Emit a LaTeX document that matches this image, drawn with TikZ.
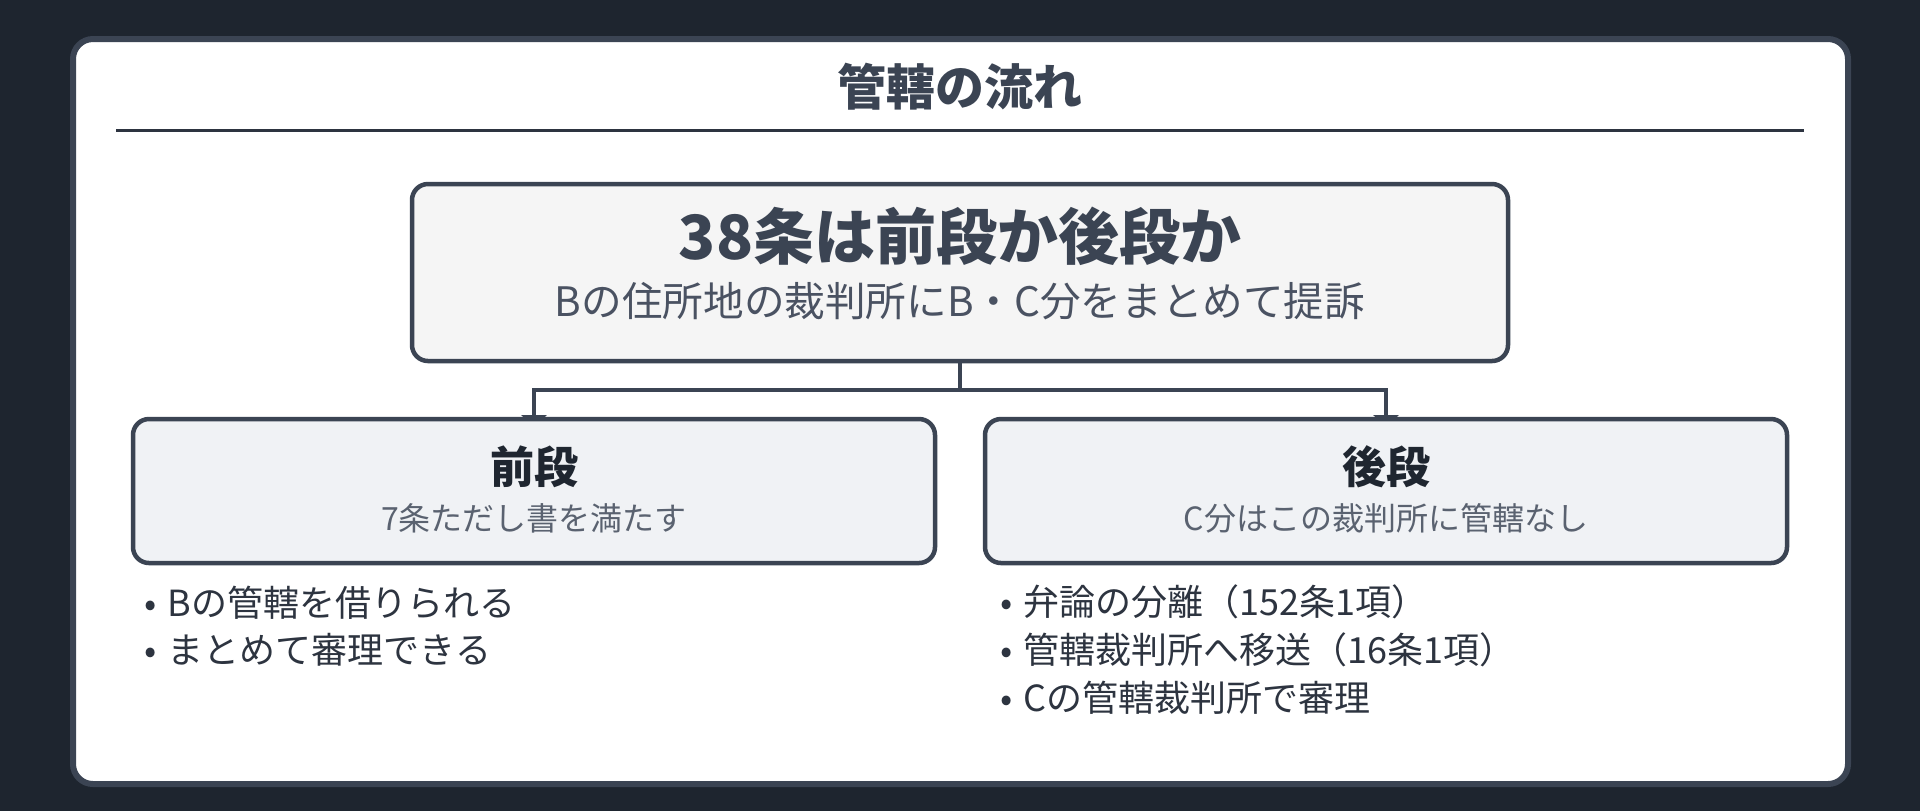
\documentclass[tikz,border=0pt]{standalone}
\usepackage{fontspec}
\setmainfont{Noto Sans CJK JP}
\usetikzlibrary{arrows.meta}
\definecolor{bgc}{HTML}{1E252F}
\definecolor{edge}{HTML}{3B4453}
\definecolor{rulec}{HTML}{2D3440}
\definecolor{topfill}{HTML}{F5F5F5}
\definecolor{childfill}{HTML}{F0F2F5}
\definecolor{titlec}{HTML}{3B4453}
\definecolor{subc}{HTML}{4A5262}
\definecolor{childtitle}{HTML}{1F2630}
\definecolor{childsub}{HTML}{5A6270}
\definecolor{bulletc}{HTML}{2D3440}
\pgfdeclarelayer{back}
\pgfdeclarelayer{mid}
\pgfsetlayers{back,mid,main}
\newcommand{\fs}[1]{\fontsize{#1}{1.2\dimexpr#1\relax}\selectfont}
\tikzset{
  box/.style={draw=edge, line width=2.25pt, rounded corners=8pt, inner sep=0pt, outer sep=0pt},
  topbox/.style={box, fill=topfill, minimum width=548pt, minimum height=88.5pt},
  childbox/.style={box, fill=childfill, minimum width=401pt, minimum height=72pt},
  conn/.style={draw=edge, line width=2pt},
  connarrow/.style={conn, -{Triangle[width=12.5pt,length=6pt]}, shorten >=-4pt},
  txt/.style={inner sep=0pt, outer sep=0pt},
  bullet/.style={txt, anchor=west, text=bulletc, font=\fs{18pt}},
}
\newcommand{\bul}{\makebox[12pt][l]{•}}
\begin{document}
\begin{tikzpicture}[x=0.5pt,y=-0.5pt]
\begin{pgfonlayer}{back}
\fill[bgc] (0,0) rectangle (1920,811);
\draw[draw=edge, fill=white, line width=3pt, rounded corners=10pt] (73,39) rectangle (1848,784);
\draw[rulec, line width=1.5pt] (116,130) -- (1804,130);
\end{pgfonlayer}
\useasboundingbox (0,0) rectangle (1920,811);

\node[txt, text=titlec, font=\fs{24.5pt}\bfseries] (title) at (960,87) {管轄の流れ};

\node[topbox] (top) at (960,272.5) {};
\node[txt, text=titlec, font=\fs{30.5pt}\bfseries] (toptitle) at (960,236) {38条は前段か後段か};
\node[txt, text=subc, font=\fs{20.3pt}] (topsub) at (960,301) {Bの住所地の裁判所にB・C分をまとめて提訴};

\node[childbox] (lc) at (534,491) {};
\node[txt, text=childtitle, font=\fs{22pt}\bfseries] (lctitle) at (534,467) {前段};
\node[txt, text=childsub, font=\fs{16pt}] (lcsub) at (534,518) {7条ただし書を満たす};

\node[childbox] (rc) at (1386,491) {};
\node[txt, text=childtitle, font=\fs{22pt}\bfseries] (rctitle) at (1386,467) {後段};
\node[txt, text=childsub, font=\fs{16pt}] (rcsub) at (1386,518) {C分はこの裁判所に管轄なし};

\coordinate (j) at (960,390);
\begin{pgfonlayer}{mid}
\draw[conn] (top.south) -- (j);
\draw[connarrow] (j) -| (lc.north);
\draw[connarrow] (j) -| (rc.north);
\end{pgfonlayer}

\node[bullet] (l1) at (144,603) {\bul Bの管轄を借りられる};
\node[bullet] (l2) at (144,650) {\bul まとめて審理できる};

\node[bullet] (r1) at (1000,602) {\bul 弁論の分離（152条1項）};
\node[bullet] (r2) at (1000,650) {\bul 管轄裁判所へ移送（16条1項）};
\node[bullet] (r3) at (1000,698) {\bul Cの管轄裁判所で審理};
\end{tikzpicture}
\end{document}
